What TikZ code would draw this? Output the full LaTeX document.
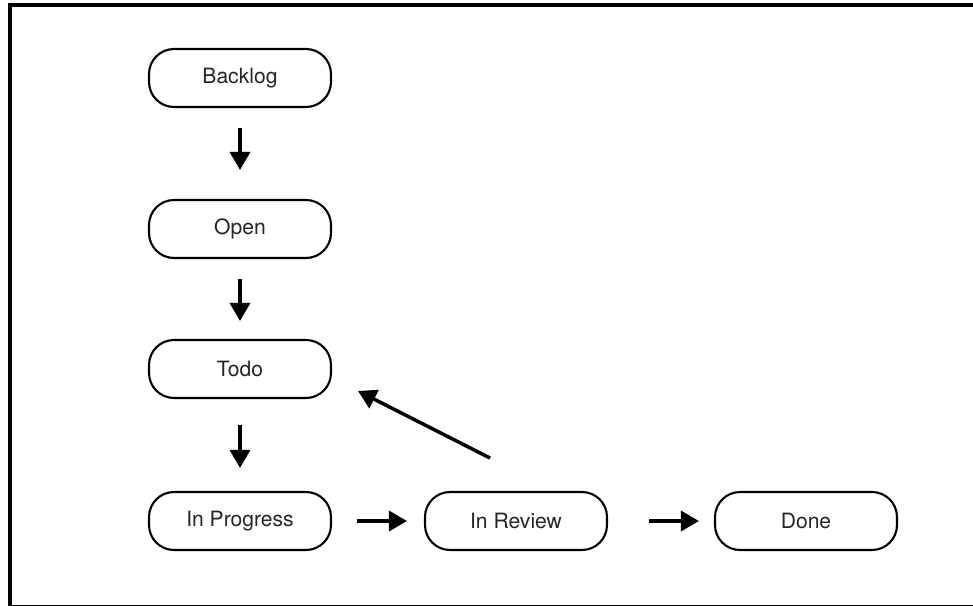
\documentclass[tikz,border=0pt]{standalone}
\usepackage{fontspec}
\setmainfont{TeX Gyre Heros}
\usetikzlibrary{arrows.meta}

\tikzset{
	zustand/.style={draw, line width=1.2pt, rounded corners=0.5cm, minimum width=3.64cm, minimum height=1.16cm, text=black!85, font=\fontsize{12}{14}\selectfont},
	pfeil/.style={-{Triangle[length=0.36cm, width=0.4cm]}, line width=2pt},
}

\begin{document}
\begin{tikzpicture}[x=0.02cm, y=-0.02cm]
		
		\useasboundingbox (0,0) rectangle (973,605);
		\clip (0,0) rectangle (973,605);
		
		%Rahmen
		\draw [line width=2.2pt] (990,5) -- (10,5) -- (10,606.5) -- (990,606.5);
		
		%Zustaende
		\node [zustand] (backlog) at (240,78) {Backlog};
		\node [zustand] (open) at (240,229) {Open};
		\node [zustand] (todo) at (240,369) {Todo};
		\node [zustand] (progress) at (240,521) {In Progress};
		\node [zustand] (review) at (516,521) {In Review};
		\node [zustand] (done) at (806,521) {Done};
		
		%Uebergaenge
		\draw [pfeil, shorten <=0.4cm, shorten >=0.58cm] (backlog) -- (open);
		\draw [pfeil, shorten <=0.4cm, shorten >=0.36cm] (open) -- (todo);
		\draw [pfeil, shorten <=0.52cm, shorten >=0.46cm] (todo) -- (progress);
		\draw [pfeil, shorten <=0.5cm, shorten >=0.34cm] (progress) -- (review);
		\draw [pfeil, shorten <=0.82cm, shorten >=0.3cm] (review) -- (done);
		
		%Zurueck zu Todo
		\coordinate (rueckA) at (490,458);
		\coordinate (rueckB) at (358,391);
		\draw [pfeil] (rueckA) -- (rueckB);
		
	\end{tikzpicture}
\end{document}
